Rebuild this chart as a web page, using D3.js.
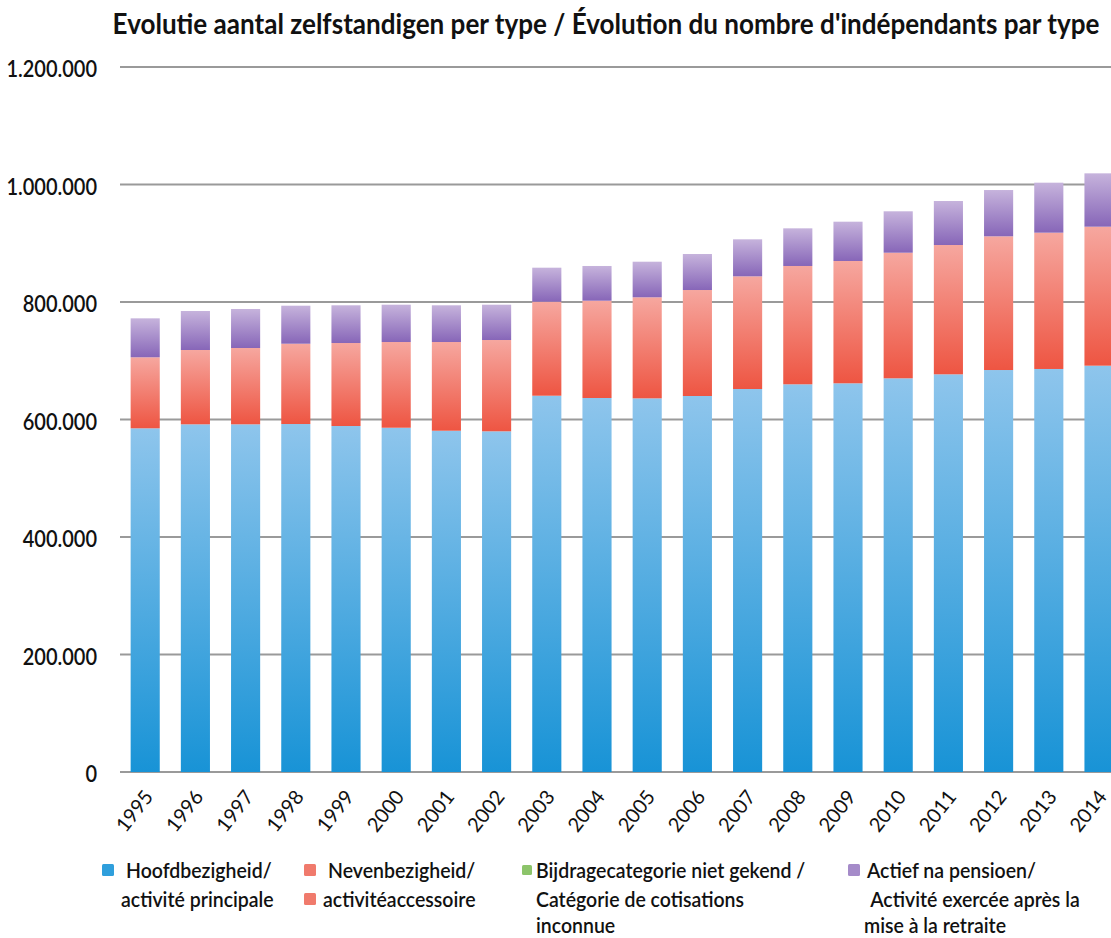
<!DOCTYPE html>
<html><head><meta charset="utf-8">
<script src="https://cdn.jsdelivr.net/npm/d3@7"></script>
<style>body{margin:0;background:#fff}</style>
</head><body>
<svg id="c" width="1111" height="938"></svg>
<script>
const years = ["1995","1996","1997","1998","1999","2000","2001","2002","2003","2004","2005","2006","2007","2008","2009","2010","2011","2012","2013","2014"];
const hoofdbezigheid = [585000,591800,591800,592300,588900,586000,580900,579900,640500,636600,636000,640000,651900,659900,661600,670100,676900,684200,686000,691600];
const nevenbezigheid = [120900,126500,129900,136700,141300,145900,151000,155400,160000,165600,172000,180400,191800,201400,208200,213800,220100,227600,232000,236600];
const nietGekend = [0,0,0,0,0,0,0,0,0,0,0,0,0,0,0,0,0,0,0,0];
const naPensioen = [66300,66400,66400,64700,64200,63500,62500,60100,57900,59100,60600,61300,63000,64100,66900,70500,74900,78800,85100,90800];
const yTicks = [0,200000,400000,600000,800000,1000000,1200000];
const title = "Evolutie aantal zelfstandigen per type / Évolution du nombre d'indépendants par type";
const legendLines = [
  ["Hoofdbezigheid/", "activité principale"],
  ["Nevenbezigheid/", "activitéaccessoire"],
  ["Bijdragecategorie niet gekend /", "Catégorie de cotisations", "inconnue"],
  ["Actief na pensioen/", " Activité exercée après la", "mise à la retraite"]
];

const svg = d3.select("#c");
const font = "Lato, 'Open Sans', sans-serif";
const x = d3.scaleBand().domain(years).range([120.1, 1124.1]).paddingInner(0.42).paddingOuter(0.21);
const y = d3.scaleLinear().domain([0, 1200000]).range([772, 67]);
const fmt = d3.formatLocale({decimal: ",", thousands: ".", grouping: [3], currency: ["", ""]}).format(",d");

const keys = ["hoofd", "neven", "onbekend", "pensioen"];
const rows = years.map((yr, i) => ({year: yr, hoofd: hoofdbezigheid[i], neven: nevenbezigheid[i], onbekend: nietGekend[i], pensioen: naPensioen[i]}));
const stack = d3.stack().keys(keys)(rows);

const defs = svg.append("defs");
const grads = {
  hoofd: ["#8ec5ec", "#1893d6"],
  neven: ["#f6a79f", "#ee5542"],
  onbekend: ["#b5dc8e", "#7dbb4e"],
  pensioen: ["#c6b3dc", "#8766b8"]
};
Object.entries(grads).forEach(([k, c]) => {
  const g = defs.append("linearGradient").attr("id", "g_" + k).attr("x1", 0).attr("y1", 0).attr("x2", 0).attr("y2", 1);
  g.append("stop").attr("offset", "0%").attr("stop-color", c[0]);
  g.append("stop").attr("offset", "100%").attr("stop-color", c[1]);
});
const legendColors = ["#2f9fdc", "#f07a6c", "#8cc46a", "#a58bc9"];

// gridlines
svg.append("g").selectAll("line").data(yTicks).join("line")
  .attr("x1", 120).attr("x2", 1111)
  .attr("y1", d => y(d)).attr("y2", d => y(d))
  .attr("stroke", "#9a9a9a").attr("stroke-width", 2);

// y labels
svg.append("g").selectAll("text").data(yTicks).join("text")
  .attr("transform", d => `translate(97,${y(d) + 10}) scale(1,1.16)`)
  .attr("text-anchor", "end")
  .attr("font-family", font).attr("font-size", 20).attr("font-weight", 600).attr("fill", "#111")
  .text(d => fmt(d));

// bars
svg.append("g").selectAll("g").data(stack).join("g")
  .attr("fill", d => "url(#g_" + d.key + ")")
  .selectAll("rect").data(d => d).join("rect")
  .attr("x", d => x(d.data.year))
  .attr("width", x.bandwidth())
  .attr("y", d => y(d[1]))
  .attr("height", d => Math.max(0, y(d[0]) - y(d[1])));

// x labels
svg.append("g").selectAll("text").data(years).join("text")
  .attr("transform", d => `translate(${x(d) + x.bandwidth() / 2 + 9},${797}) rotate(-52)`)
  .attr("text-anchor", "end")
  .attr("font-family", font).attr("font-size", 20).attr("fill", "#111")
  .text(d => d);

// title
const t = svg.append("text")
  .attr("transform", "translate(606,34) scale(1,1.08)")
  .attr("text-anchor", "middle")
  .attr("font-family", font).attr("font-size", 26).attr("font-weight", 700).attr("fill", "#111")
  .text(title);
const tw = t.node().getComputedTextLength();
t.attr("font-size", 26 * 987 / tw);

// legend
const legPos = [
  {sx: [102, null], tx: [126, 121], sq: [12, 12]},
  {sx: [304, 304], tx: [328, 323], sq: [12, 12]},
  {sx: [522], tx: [536, 536, 536], sq: [10]},
  {sx: [848], tx: [867, 866, 864], sq: [12]}
];
const baselines = [878, 907, 933];
const lg = svg.append("g");
legendLines.forEach((lines, i) => {
  const p = legPos[i];
  p.sx.forEach((sx, j) => {
    if (sx === null) return;
    const s = p.sq[j] || 12;
    lg.append("rect").attr("x", sx).attr("y", baselines[j] - 14 + (12 - s) / 2).attr("width", s).attr("height", s)
      .attr("rx", 1.5).attr("fill", legendColors[i]);
  });
  lines.forEach((ln, j) => {
    lg.append("text").attr("transform", `translate(${p.tx[j]},${baselines[j]}) scale(1,1.12)`)
      .attr("font-family", font).attr("font-size", 19.5).attr("font-weight", 600).attr("fill", "#111")
      .attr("xml:space", "preserve").style("white-space", "pre")
      .text(ln);
  });
});
</script>
</body></html>
